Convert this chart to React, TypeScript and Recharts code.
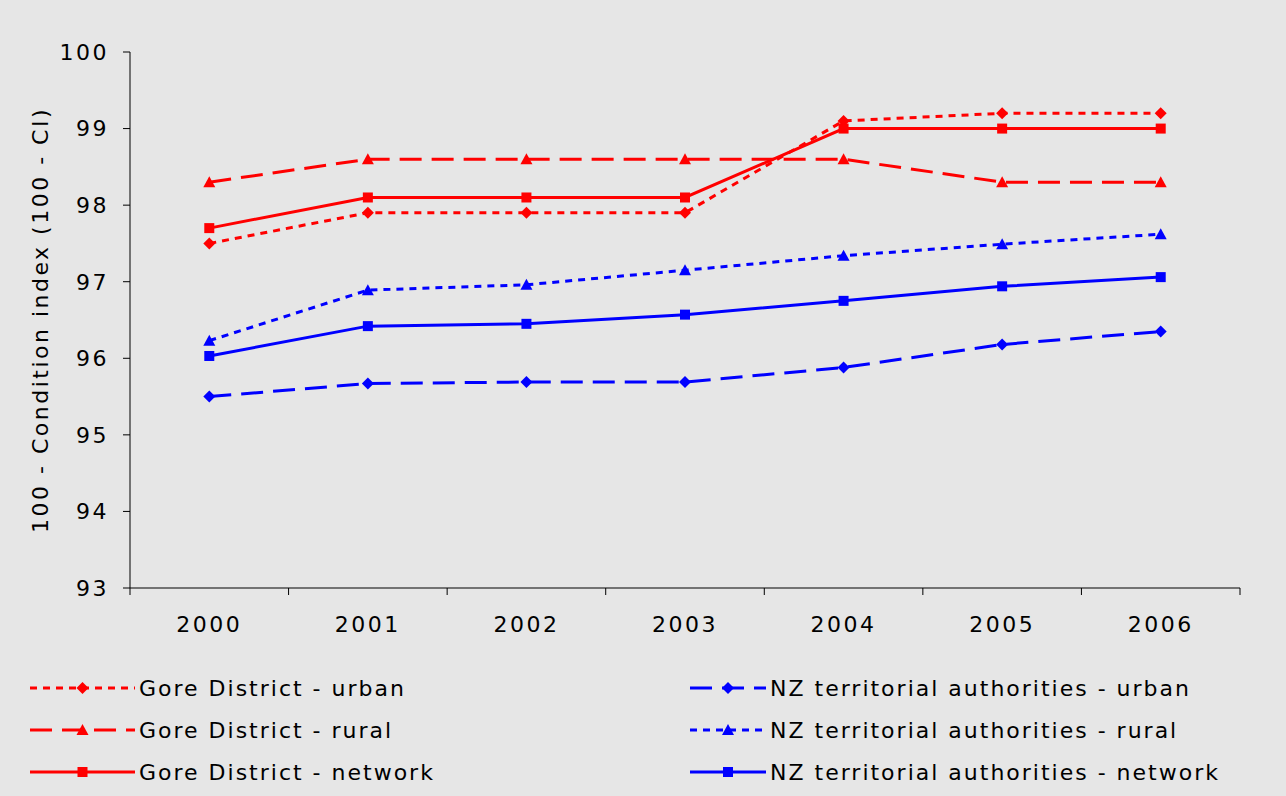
import React from 'react'
import { LineChart, Line, XAxis, YAxis, Label } from 'recharts'

const years = [2000, 2001, 2002, 2003, 2004, 2005, 2006]
const goreUrban = [97.5, 97.9, 97.9, 97.9, 99.1, 99.2, 99.2]
const goreRural = [98.3, 98.6, 98.6, 98.6, 98.6, 98.3, 98.3]
const goreNetwork = [97.7, 98.1, 98.1, 98.1, 99.0, 99.0, 99.0]
const nzUrban = [95.5, 95.67, 95.69, 95.69, 95.88, 96.18, 96.35]
const nzRural = [96.23, 96.89, 96.96, 97.15, 97.34, 97.49, 97.62]
const nzNetwork = [96.03, 96.42, 96.45, 96.57, 96.75, 96.94, 97.06]
const yTicks = [93, 94, 95, 96, 97, 98, 99, 100]
const boundaries = [1999.5, 2000.5, 2001.5, 2002.5, 2003.5, 2004.5, 2005.5, 2006.5]

const data = years.map((y, i) => ({
  year: y,
  goreUrban: goreUrban[i],
  goreRural: goreRural[i],
  goreNetwork: goreNetwork[i],
  nzUrban: nzUrban[i],
  nzRural: nzRural[i],
  nzNetwork: nzNetwork[i],
}))

const RED = '#ff0000'
const BLUE = '#0000ff'
const FONT = '"DejaVu Sans", Verdana, sans-serif'

type Shape = 'diamond' | 'triangle' | 'square'

function marker(shape: Shape, color: string, cx: number, cy: number, key?: string) {
  if (shape === 'square') return <rect key={key} x={cx - 5} y={cy - 5} width={10} height={10} fill={color} />
  if (shape === 'triangle') return <polygon key={key} points={`${cx},${cy - 6} ${cx + 6},${cy + 5} ${cx - 6},${cy + 5}`} fill={color} />
  return <polygon key={key} points={`${cx},${cy - 6} ${cx + 6},${cy} ${cx},${cy + 6} ${cx - 6},${cy}`} fill={color} />
}

const makeDot = (shape: Shape, color: string) => (p: any) => marker(shape, color, p.cx, p.cy, `${p.dataKey}-${p.index}`)

const series = [
  { key: 'goreUrban', name: 'Gore District - urban', color: RED, dash: '7 6', shape: 'diamond' as Shape },
  { key: 'goreRural', name: 'Gore District - rural', color: RED, dash: '22 10', shape: 'triangle' as Shape },
  { key: 'goreNetwork', name: 'Gore District - network', color: RED, dash: undefined, shape: 'square' as Shape },
  { key: 'nzUrban', name: 'NZ territorial authorities - urban', color: BLUE, dash: '22 10', shape: 'diamond' as Shape },
  { key: 'nzRural', name: 'NZ territorial authorities - rural', color: BLUE, dash: '7 6', shape: 'triangle' as Shape },
  { key: 'nzNetwork', name: 'NZ territorial authorities - network', color: BLUE, dash: undefined, shape: 'square' as Shape },
]

const textStyle = { fontSize: 22, fill: '#000', fontFamily: FONT, letterSpacing: 2.5 }

// year labels plus tick marks at the category boundaries
function XTick(p: any) {
  const v = p.payload.value
  if (Number.isInteger(v)) {
    return (
      <text x={p.x} y={p.y + 44} textAnchor="middle" style={textStyle}>
        {v}
      </text>
    )
  }
  return <line x1={p.x} y1={p.y} x2={p.x} y2={p.y + 7} stroke="#000" />
}

function LegendItem({ s, x, y, lineW }: { s: (typeof series)[number]; x: number; y: number; lineW: number }) {
  return (
    <div style={{ position: 'absolute', left: x, top: y - 14, display: 'flex', alignItems: 'center' }}>
      <svg width={lineW} height={28}>
        <line x1={0} y1={14} x2={lineW} y2={14} stroke={s.color} strokeWidth={3} strokeDasharray={s.dash} />
        {marker(s.shape, s.color, lineW / 2, 14)}
      </svg>
      <span style={{ fontSize: 22, marginLeft: 4, color: '#000', fontFamily: FONT, letterSpacing: 2, whiteSpace: 'nowrap' }}>{s.name}</span>
    </div>
  )
}

export default function App() {
  return (
    <div style={{ position: 'fixed', left: 0, top: 0, width: 1286, height: 796, background: '#e6e6e6', fontFamily: FONT }}>
      <LineChart width={1286} height={660} data={data} margin={{ top: 52, right: 46, left: 20, bottom: 10 }}>
        <YAxis
          type="number"
          domain={[93, 100]}
          ticks={yTicks}
          width={110}
          axisLine={{ stroke: '#000', strokeWidth: 1 }}
          tickLine={{ stroke: '#000' }}
          tickSize={7}
          tickMargin={14}
          tick={textStyle}
        >
          <Label value="100 - Condition index (100 - CI)" angle={-90} position="insideLeft" offset={20} style={{ ...textStyle, textAnchor: 'middle' }} />
        </YAxis>
        <XAxis
          dataKey="year"
          type="number"
          domain={[1999.5, 2006.5]}
          ticks={[...boundaries, ...years]}
          interval={0}
          axisLine={{ stroke: '#000', strokeWidth: 1 }}
          tickLine={false}
          tickSize={0}
          tickMargin={0}
          height={62}
          tick={<XTick />}
        />
        {series.map((s) => (
          <Line
            key={s.key}
            dataKey={s.key}
            name={s.name}
            stroke={s.color}
            strokeWidth={3}
            strokeDasharray={s.dash}
            type="linear"
            dot={makeDot(s.shape, s.color)}
            activeDot={false}
            isAnimationActive={false}
          />
        ))}
      </LineChart>
      {series.slice(0, 3).map((s, i) => (
        <LegendItem key={s.key} s={s} x={30} y={688 + i * 42} lineW={105} />
      ))}
      {series.slice(3).map((s, i) => (
        <LegendItem key={s.key} s={s} x={690} y={688 + i * 42} lineW={76} />
      ))}
    </div>
  )
}
